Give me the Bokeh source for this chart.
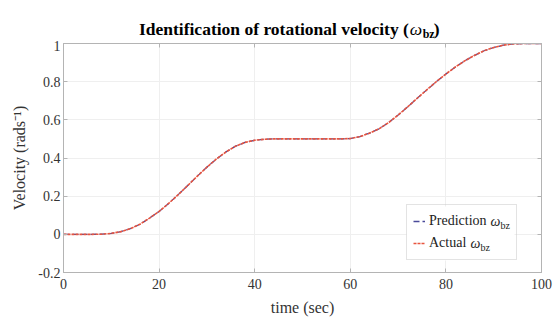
from bokeh.plotting import figure
from bokeh.layouts import column
from bokeh.models import (Range1d, LinearAxis, Label, Legend, LegendItem, BoxAnnotation,
                          FixedTicker, CustomJSTickFormatter, ColumnDataSource)
from bokeh.embed import file_html
from bokeh.resources import INLINE

# ---- data ----
time_s = [0, 2, 4, 6, 8, 10, 12, 14, 16, 18, 20, 22, 24, 26, 28, 30, 32, 34, 36, 38,
          40, 42, 44, 46, 48, 50, 52, 54, 56, 58, 60, 62, 64, 66, 68, 70, 72, 74, 76, 78,
          80, 82, 84, 86, 88, 90, 92, 94, 96, 98, 100]
prediction = [0, 0, 0, 0, 0.001, 0.005, 0.014, 0.03, 0.053, 0.085, 0.12, 0.162, 0.208,
              0.256, 0.305, 0.352, 0.395, 0.432, 0.462, 0.482, 0.493, 0.498, 0.5, 0.5,
              0.5, 0.5, 0.5, 0.5, 0.5, 0.5, 0.502, 0.512, 0.53, 0.553, 0.585, 0.625,
              0.668, 0.713, 0.757, 0.8, 0.84, 0.877, 0.91, 0.938, 0.962, 0.979, 0.991,
              0.998, 1.0, 1.0, 1.0]
actual = [0, 0, 0, 0, 0.001, 0.005, 0.014, 0.03, 0.053, 0.085, 0.12, 0.162, 0.208,
          0.256, 0.305, 0.352, 0.395, 0.432, 0.462, 0.482, 0.493, 0.498, 0.5, 0.5,
          0.5, 0.5, 0.5, 0.5, 0.5, 0.5, 0.502, 0.512, 0.53, 0.553, 0.585, 0.625,
          0.668, 0.713, 0.757, 0.8, 0.84, 0.877, 0.91, 0.938, 0.962, 0.979, 0.991,
          0.998, 1.0, 1.0, 1.0]

x_ticks = [0, 20, 40, 60, 80, 100]
y_ticks = [-0.2, 0, 0.2, 0.4, 0.6, 0.8, 1]
y_tick_labels = ["-0.2", "0", "0.2", "0.4", "0.6", "0.8", "1"]

title_main = "Identification of rotational velocity ("
symbol = "\u03c9"
subscript = "bz"
legend_names = ["Prediction", "Actual"]
x_label = "time (sec)"
y_label = "Velocity (rads\u207b\u00b9)"

FONT = "Liberation Serif"
AXIS_COLOR = "#b4b4b4"
TEXT_COLOR = "#333333"

# ---------------- title strip (its own small figure, pixel coordinates) ----------------
tf = figure(width=555, height=40, x_range=Range1d(0, 555), y_range=Range1d(0, 40),
            output_backend="svg", toolbar_location=None,
            x_axis_type=None, y_axis_type=None,
            min_border_left=0, min_border_right=0, min_border_top=0, min_border_bottom=0,
            background_fill_color="white", border_fill_color="white")
tf.outline_line_color = None
tf.grid.visible = False


def tlabel(x, y, text, size, style="normal", align="left"):
    tf.add_layout(Label(x=x, y=y, text=text, text_font=FONT, text_font_size=size,
                        text_font_style=style, text_align=align,
                        text_baseline="alphabetic", text_color="black"))


tlabel(401, 12, title_main, "17.5px", "bold", "right")
tlabel(402, 12, symbol, "17.5px", "italic")
tlabel(417, 7, subscript, "12px", "bold")
tlabel(430, 12, ")", "17.5px", "bold")

# ---------------- main chart ----------------
src = ColumnDataSource(dict(t=time_s, pred=prediction, act=actual))

p = figure(width=555, height=281, x_range=Range1d(0, 100), y_range=Range1d(-0.2, 1),
           output_backend="svg", toolbar_location=None,
           min_border_left=63, min_border_right=14, min_border_top=3, min_border_bottom=49,
           background_fill_color="white", border_fill_color="white")
p.outline_line_color = AXIS_COLOR

r_pred = p.line("t", "pred", source=src, line_color="#4a4a9a", line_width=1.3, line_dash="6 3")
r_act = p.line("t", "act", source=src, line_color="#e8553f", line_width=1.6, line_dash="3 1")

for ax in (p.xaxis[0], p.yaxis[0]):
    ax.axis_line_color = AXIS_COLOR
    ax.major_tick_line_color = AXIS_COLOR
    ax.major_tick_in = 4
    ax.major_tick_out = 0
    ax.minor_tick_line_color = None
    ax.major_label_text_font = FONT
    ax.major_label_text_font_size = "14px"
    ax.major_label_text_color = TEXT_COLOR
    ax.axis_label_text_font = FONT
    ax.axis_label_text_font_size = "16px"
    ax.axis_label_text_font_style = "normal"
    ax.axis_label_text_color = TEXT_COLOR

p.xaxis.ticker = FixedTicker(ticks=x_ticks)
p.yaxis.ticker = FixedTicker(ticks=y_ticks)
p.yaxis.major_label_overrides = {k: v for k, v in zip(y_ticks, y_tick_labels)}
p.xaxis.axis_label = x_label
p.yaxis.axis_label = y_label
p.xaxis.major_label_standoff = 6
p.xaxis.axis_label_standoff = 7
p.yaxis.major_label_standoff = 3
p.yaxis.axis_label_standoff = 7

blank = CustomJSTickFormatter(code="return ''")
top = LinearAxis(ticker=FixedTicker(ticks=x_ticks), formatter=blank,
                 major_tick_in=4, major_tick_out=0, minor_tick_line_color=None,
                 axis_line_color=AXIS_COLOR, major_tick_line_color=AXIS_COLOR,
                 major_label_standoff=0)
right = LinearAxis(ticker=FixedTicker(ticks=y_ticks), formatter=blank,
                   major_tick_in=4, major_tick_out=0, minor_tick_line_color=None,
                   axis_line_color=AXIS_COLOR, major_tick_line_color=AXIS_COLOR,
                   major_label_standoff=0)
p.add_layout(top, "above")
p.add_layout(right, "right")

p.xgrid.ticker = FixedTicker(ticks=x_ticks)
p.ygrid.ticker = FixedTicker(ticks=y_ticks)
p.grid.grid_line_color = "#efefef"

# white backing for the legend (the legend itself is transparent so that the
# subscript labels below it stay visible)
p.add_layout(BoxAnnotation(left=71.76, right=94.35, top=0.1459, bottom=-0.1371,
                           fill_color="white", fill_alpha=1, line_color=None))


def slabel(x, y, text, size, style="normal"):
    p.add_layout(Label(x=x, y=y, x_units="screen", y_units="screen", text=text,
                       text_font=FONT, text_font_size=size, text_font_style=style,
                       text_baseline="alphabetic", text_color="#222222"))


slabel(427, 51, symbol, "14px", "italic")
slabel(437, 47, subscript, "10px")
slabel(407, 29, symbol, "14px", "italic")
slabel(417, 25, subscript, "10px")

legend = Legend(items=[LegendItem(label=legend_names[0], renderers=[r_pred]),
                       LegendItem(label=legend_names[1], renderers=[r_act])],
                location=(343, 12), padding=6, spacing=2, margin=0,
                glyph_width=12, glyph_height=20, label_height=20, label_width=81,
                label_standoff=4, label_text_font=FONT, label_text_font_size="14px",
                label_text_color="#222222", border_line_color="#c8c8c8",
                background_fill_alpha=0)
p.add_layout(legend)

layout = column(tf, p, spacing=0)
open("out.html", "w").write(file_html(layout, INLINE))
